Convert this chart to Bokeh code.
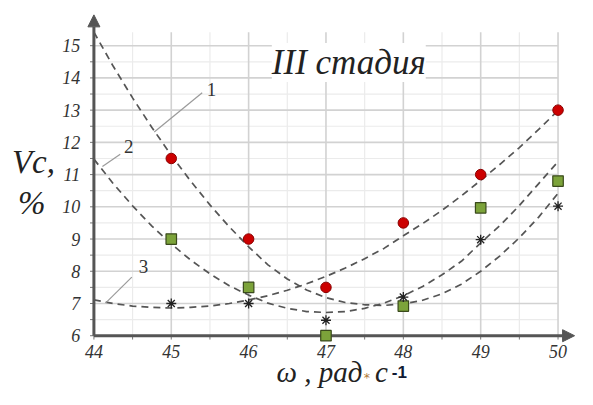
from bokeh.plotting import figure
from bokeh.models import Label, Arrow, NormalHead, Range1d, ColumnDataSource
from bokeh.core.properties import value
from bokeh.embed import file_html
from bokeh.resources import INLINE

# ---- data ----
omega = [45, 46, 47, 48, 49, 50]
series_red = [11.5, 9.0, 7.5, 9.5, 11.0, 13.0]
series_green = [9.0, 7.5, 6.0, 6.92, 9.97, 10.8]
series_star = [7.0, 7.0, 6.48, 7.2, 8.98, 10.02]

curve_x = [44.0, 44.25, 44.5, 44.75, 45.0, 45.25, 45.5, 45.75, 46.0, 46.25, 46.5, 46.75,
           47.0, 47.25, 47.5, 47.75, 48.0, 48.25, 48.5, 48.75, 49.0, 49.25, 49.5, 49.75, 50.0]
curve_1 = [15.42, 14.36, 13.38, 12.46, 11.60, 10.80, 10.06, 9.38, 8.76, 8.20, 7.76, 7.42,
           7.18, 7.03, 6.96, 6.94, 6.99, 7.10, 7.30, 7.60, 8.00, 8.48, 9.04, 9.68, 10.42]
curve_2 = [11.48, 10.72, 10.03, 9.40, 8.85, 8.35, 7.92, 7.55, 7.26, 7.01, 6.85, 6.75,
           6.72, 6.75, 6.85, 7.01, 7.24, 7.53, 7.89, 8.31, 8.88, 9.42, 10.04, 10.72, 11.40]
curve_3 = [7.11, 7.00, 6.92, 6.88, 6.86, 6.88, 6.92, 7.00, 7.11, 7.24, 7.41, 7.61,
           7.84, 8.10, 8.39, 8.71, 9.10, 9.48, 9.89, 10.34, 10.82, 11.32, 11.84, 12.40, 12.99]

x_ticks = [44, 45, 46, 47, 48, 49, 50]
x_minor = [44.5, 45.5, 46.5, 47.5, 48.5, 49.5]
y_ticks = [6, 7, 8, 9, 10, 11, 12, 13, 14, 15]
y_minor = [6.5, 7.5, 8.5, 9.5, 10.5, 11.5, 12.5, 13.5, 14.5]
x_tick_labels = ["44", "45", "46", "47", "48", "49", "50"]
y_tick_labels = ["6", "7", "8", "9", "10", "11", "12", "13", "14", "15"]

title_text = "III стадия"
y_label_1 = "Vc,"
y_label_2 = "%"
x_label_main = "ω , рад"
x_label_star = "*"
x_label_c = "с"
x_label_sup = "-1"
curve_names = ["1", "2", "3"]

SERIF = "Liberation Serif"
X0, X1, Y0, Y1 = 44, 50, 6, 15.42      # plotting area bounds
PX = 79.5                              # reference pixels per x unit
PY = 33.55                             # reference pixels per y unit
REF_W, REF_H = 593, 405                # reference picture size
AX_PX, AX_PY = 96, 349                 # reference pixel of (44, 6)

p = figure(width=577, height=389, output_backend="svg", toolbar_location=None,
           x_range=Range1d(X0 - AX_PX / PX, X0 + (REF_W - AX_PX) / PX),
           y_range=Range1d(Y0 - (REF_H - AX_PY) / PY, Y0 + AX_PY / PY),
           min_border=0)
p.outline_line_color = None
p.axis.visible = False
p.grid.visible = False
p.background_fill_color = "white"

# grid (bounded to the plotting area)
p.segment(x0=x_minor, y0=Y0, x1=x_minor, y1=Y1, line_color="#ebebeb", line_width=1.2)
p.segment(x0=X0, y0=y_minor, x1=X1, y1=y_minor, line_color="#ebebeb", line_width=1.2)
p.segment(x0=x_ticks, y0=Y0, x1=x_ticks, y1=Y1, line_color="#d2d2d2", line_width=1.6)
p.segment(x0=X0, y0=y_ticks, x1=X1, y1=y_ticks, line_color="#d2d2d2", line_width=1.6)

# ticks (outside)
p.segment(x0=x_ticks + x_minor, y0=Y0, x1=x_ticks + x_minor, y1=Y0 - 4 / PY,
          line_color="#777777", line_width=1)
p.segment(x0=X0 - 4 / PX, y0=y_ticks + y_minor, x1=X0, y1=y_ticks + y_minor,
          line_color="#777777", line_width=1)

# tick labels
p.text(x=x_ticks, y=[Y0 - 16 / PY] * len(x_ticks), text=x_tick_labels,
       text_font=value(SERIF), text_font_style="italic", text_font_size="18px",
       text_color="#333333", text_align="center", text_baseline="middle")
p.text(x=[X0 - 14 / PX] * len(y_ticks), y=y_ticks, text=y_tick_labels,
       text_font=value(SERIF), text_font_style="italic", text_font_size="18px",
       text_color="#333333", text_align="right", text_baseline="middle")

# axis arrows
head = dict(size=12, fill_color="#555555", line_color="#555555")
p.add_layout(Arrow(end=NormalHead(**head), x_start=X0, y_start=Y0, x_end=X1 + 17 / PX, y_end=Y0,
                   line_color="#555555", line_width=3))
p.add_layout(Arrow(end=NormalHead(**head), x_start=X0, y_start=Y0, x_end=X0, y_end=Y1 + 18 / PY,
                   line_color="#555555", line_width=3))

# trend curves
for cy in (curve_1, curve_2, curve_3):
    p.line(curve_x, cy, line_color="#555555", line_width=1.7, line_dash="7 5")

# leader lines for curve numbers
p.segment(x0=[44.78, 44.11, 44.15], y0=[12.32, 11.25, 7.01],
          x1=[45.40, 44.34, 44.49], y1=[13.54, 11.63, 7.82],
          line_color="#9a9a9a", line_width=1.2)
for name, lx, ly in zip(curve_names, [45.52, 44.45, 44.64], [13.63, 11.87, 8.15]):
    p.add_layout(Label(x=lx, y=ly, text=name, text_font=SERIF, text_font_size="19px",
                       text_color="#333333", text_align="center", text_baseline="middle"))

# markers
src = ColumnDataSource(dict(x=omega, r=series_red, g=series_green, s=series_star))
p.scatter("x", "r", source=src, marker="circle", size=10.5, fill_color="#cc0000",
          line_color="#8a0000", line_width=1, level="overlay")
p.scatter("x", "g", source=src, marker="square", size=10.5, fill_color="#7ca33a",
          line_color="#3a4a1c", line_width=1.2, level="overlay")
p.scatter("x", "s", source=src, marker="asterisk", size=10, line_color="#222222",
          line_width=1.3, level="overlay")

# title
p.add_layout(Label(x=46.30, y=14.48, text=title_text, text_font=SERIF, text_font_style="italic",
                   text_font_size="35px", text_color="#222222", text_baseline="middle",
                   background_fill_color="white"))

# y label
p.add_layout(Label(x=42.94, y=11.38, text=y_label_1, text_font=SERIF, text_font_style="italic",
                   text_font_size="33px", text_color="#222222", text_baseline="middle"))
p.add_layout(Label(x=43.02, y=10.13, text=y_label_2, text_font=SERIF, text_font_style="italic",
                   text_font_size="33px", text_color="#222222", text_baseline="middle"))

# x label
p.add_layout(Label(x=47.47, y=4.87, text=x_label_main, text_font=SERIF, text_font_style="italic",
                   text_font_size="29px", text_color="#222222", text_align="right",
                   text_baseline="middle"))
p.add_layout(Label(x=47.53, y=4.70, text=x_label_star, text_font="DejaVu Sans",
                   text_font_size="12.5px", text_color="#b07a3a", text_align="center",
                   text_baseline="middle"))
p.add_layout(Label(x=47.80, y=4.87, text=x_label_c, text_font=SERIF, text_font_style="italic",
                   text_font_size="29px", text_color="#222222", text_align="right",
                   text_baseline="middle"))
p.add_layout(Label(x=47.85, y=4.87, text=x_label_sup, text_font="Liberation Sans",
                   text_font_style="bold", text_font_size="17px", text_color="#111a33",
                   text_baseline="middle"))

open("out.html", "w").write(file_html(p, INLINE))
